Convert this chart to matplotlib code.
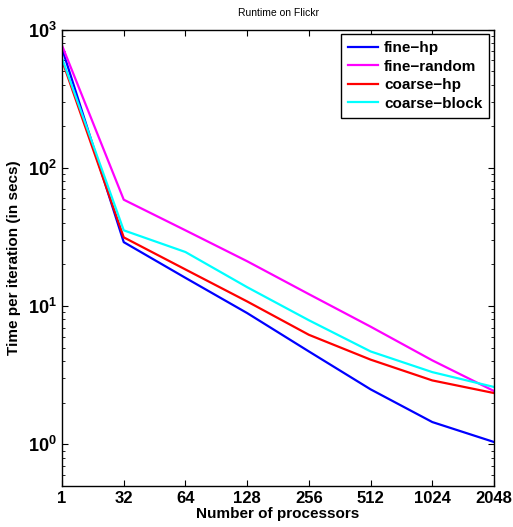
import matplotlib
matplotlib.use("Agg")
import matplotlib.pyplot as plt
import numpy as np

plt.rcParams['font.family'] = ['Liberation Sans', 'DejaVu Sans']
plt.rcParams['mathtext.fontset'] = 'custom'
plt.rcParams['mathtext.bf'] = 'Liberation Sans:bold'
plt.rcParams['mathtext.rm'] = 'Liberation Sans:bold'

# data
processors = ['1', '32', '64', '128', '256', '512', '1024', '2048']
fine_hp = [730, 29.0, 16.0, 8.9, 4.7, 2.5, 1.45, 1.04]
fine_random = [767, 58.8, 35.3, 21.1, 12.2, 7.1, 4.05, 2.43]
coarse_hp = [600, 31.4, 18.4, 10.8, 6.2, 4.1, 2.9, 2.35]
coarse_block = [620, 35.3, 24.6, 13.7, 7.9, 4.7, 3.33, 2.6]

series = [("fine\u2212hp", fine_hp, "#0000ff"),
          ("fine\u2212random", fine_random, "#ff00ff"),
          ("coarse\u2212hp", coarse_hp, "#ff0000"),
          ("coarse\u2212block", coarse_block, "#00ffff")]

fig = plt.figure(figsize=(5.13, 5.27), dpi=100)
ax = fig.add_axes([0.1209, 0.0778, 0.963 - 0.1209, 0.944 - 0.0778])

x = np.arange(len(processors))
for name, vals, col in series:
    ax.plot(x, vals, '-', color=col, lw=1.6, label=name)

ax.set_yscale('log')
ax.set_xlim(0, len(processors) - 1)
ax.set_ylim(0.5, 1000)
ax.set_xticks(x)
ax.set_xticklabels(processors, fontsize=12, fontweight='bold')
ax.set_yticks([1, 10, 100, 1000])
ax.set_yticklabels([r'$\mathbf{10^{0}}$', r'$\mathbf{10^{1}}$', r'$\mathbf{10^{2}}$', r'$\mathbf{10^{3}}$'], fontsize=13)
ax.tick_params(which='both', direction='in', top=True, right=True)
ax.tick_params(which='major', length=4, width=0.8)
ax.tick_params(which='minor', length=2, width=0.6)
for s in ax.spines.values():
    s.set_linewidth(1.0)

ax.set_xlabel("Number of processors", fontsize=11, fontweight='bold', labelpad=1)
ax.set_ylabel("Time per iteration (in secs)", fontsize=11, fontweight='bold', labelpad=5)
ax.set_title("Runtime on Flickr", fontsize=7.5, pad=10)

leg = ax.legend(loc='upper right', prop={'weight': 'bold', 'size': 11}, fancybox=False,
                edgecolor='black', framealpha=1, handlelength=2.0, borderaxespad=0.3,
                labelspacing=0.3, handletextpad=0.4, borderpad=0.45)
leg.get_frame().set_linewidth(1.0)

fig.savefig("out.png", dpi=100)
